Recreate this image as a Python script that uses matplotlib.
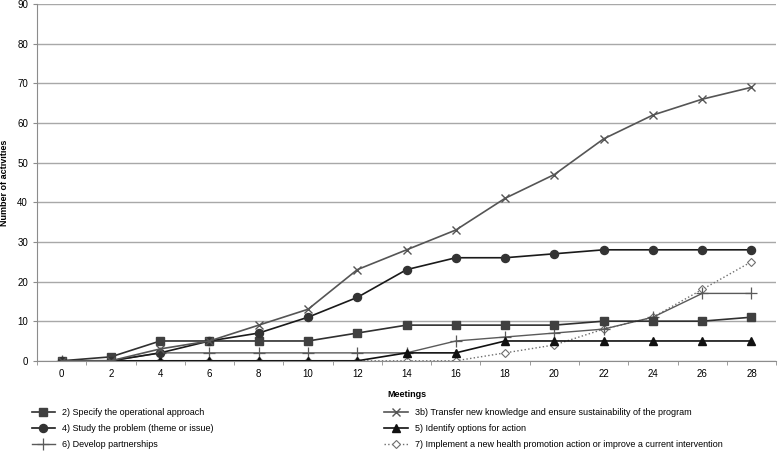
import matplotlib
matplotlib.use("Agg")
import matplotlib.pyplot as plt

plt.rcParams['font.family'] = ['Liberation Sans', 'DejaVu Sans']

# Meetings (category axis)
meetings = [0, 2, 4, 6, 8, 10, 12, 14, 16, 18, 20, 22, 24, 26, 28]

# Cumulative number of activities per phase
s2_operational = [0, 1, 5, 5, 5, 5, 7, 9, 9, 9, 9, 10, 10, 10, 11]
s3b_transfer = [0, 0, 3, 5, 9, 13, 23, 28, 33, 41, 47, 56, 62, 66, 69]
s4_study = [0, 0, 2, 5, 7, 11, 16, 23, 26, 26, 27, 28, 28, 28, 28]
s5_options = [0, 0, 0, 0, 0, 0, 0, 2, 2, 5, 5, 5, 5, 5, 5]
s6_partners = [0, 0, 2, 2, 2, 2, 2, 2, 5, 6, 7, 8, 11, 17, 17]
s7_implement = [0, 0, 0, 0, 0, 0, 0, 0, 0, 2, 4, 8, 11, 18, 25]

labels = [
    "2) Specify the operational approach",
    "3b) Transfer new knowledge and ensure sustainability of the program",
    "4) Study the problem (theme or issue)",
    "5) Identify options for action",
    "6) Develop partnerships",
    "7) Implement a new health promotion action or improve a current intervention",
]

fig = plt.figure(figsize=(7.78, 4.51), dpi=100)
ax = fig.add_axes([0.0476, 0.2, 0.95, 0.791])

ax.set_ylim(0, 90)
ax.set_xlim(-1, 29)
ax.set_yticks(range(0, 91, 10))
ax.grid(axis='y', color='#a8a8a8', lw=1.0)
ax.set_axisbelow(True)

l7, = ax.plot(meetings, s7_implement, ls=':', color='#6e6e6e', lw=1.0,
              marker='D', ms=4.3, mfc='white', mec='#6e6e6e', mew=0.8)
l6, = ax.plot(meetings, s6_partners, color='#5a5a5a', lw=1.0,
              marker='+', ms=8, mew=0.9)
l5, = ax.plot(meetings, s5_options, color='#111111', lw=1.2,
              marker='^', ms=5.5)
l2, = ax.plot(meetings, s2_operational, color='#303030', lw=1.2,
              marker='s', ms=5.5, mfc='#404040', mec='#404040')
l4, = ax.plot(meetings, s4_study, color='#1a1a1a', lw=1.2,
              marker='o', ms=5.8, mfc='#333333', mec='#333333')
l3b, = ax.plot(meetings, s3b_transfer, color='#555555', lw=1.2,
               marker='x', ms=6, mew=1.0)

for side in ['top', 'right']:
    ax.spines[side].set_visible(False)
for side in ['left', 'bottom']:
    ax.spines[side].set_color('#8c8c8c')

ax.set_xticks(meetings)
ax.set_xticks(range(-1, 30, 2), minor=True)
ax.tick_params(axis='x', which='major', length=0, labelsize=7, pad=6)
ax.tick_params(axis='x', which='minor', length=3, color='#8c8c8c', direction='out')
ax.tick_params(axis='y', length=3, color='#8c8c8c', labelsize=7)

ax.set_xlabel("Meetings", fontsize=6.5, fontweight='bold', labelpad=8)
ax.set_ylabel("Number of activities", fontsize=6.5, fontweight='bold', labelpad=6)

fig.legend([l2, l4, l6], [labels[0], labels[2], labels[4]],
           loc='upper left', bbox_to_anchor=(0.035, 0.105), frameon=False,
           fontsize=6.5, handlelength=2.6, labelspacing=0.75, borderpad=0)
fig.legend([l3b, l5, l7], [labels[1], labels[3], labels[5]],
           loc='upper left', bbox_to_anchor=(0.488, 0.105), frameon=False,
           fontsize=6.5, handlelength=2.6, labelspacing=0.75, borderpad=0)

fig.savefig("out.png", dpi=100)
